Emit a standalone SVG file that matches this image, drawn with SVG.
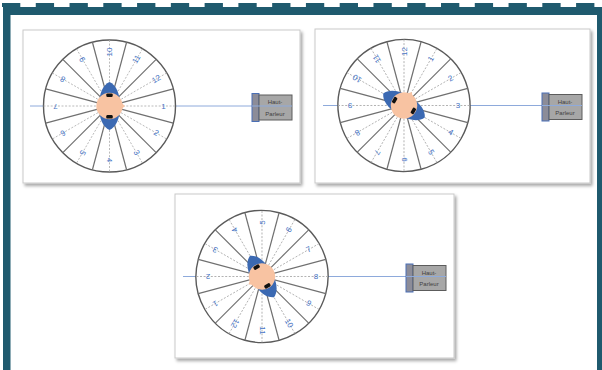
<svg xmlns="http://www.w3.org/2000/svg" xmlns:xlink="http://www.w3.org/1999/xlink" width="602" height="370" viewBox="0 0 602 370">
  <style>
    .frame { fill: #1F5A6E; }
    .panel { fill: #FFFFFF; stroke: #C9C9C9; stroke-width: 1; filter: url(#shadow); }
    .rim { fill: #FFFFFF; stroke: #5A5A5A; stroke-width: 1.4; }
    .divider { stroke: #707070; stroke-width: 1.2; }
    .guide { stroke: #A8A8A8; stroke-width: 0.8; stroke-dasharray: 2 1.6; }
    .axis { stroke: #8EAADB; stroke-width: 1; fill: none; }
    .num { font-family: "Liberation Sans", Arial, sans-serif; font-size: 8px; fill: #4472C4; text-anchor: middle; dominant-baseline: central; }
    .face { fill: #F8C3A2; }
    .hair { fill: #3B69B2; }
    .bud { fill: #111111; }
    .spk-front { fill: #8C8C98; stroke: #4A6FB5; stroke-width: 1; }
    .spk-box { fill: #A7A7A7; stroke: #5C5C5C; stroke-width: 1; }
    .spk-text { font-family: "Liberation Sans", Arial, sans-serif; font-size: 6px; fill: #3F3F3F; text-anchor: middle; }
  </style>
  <defs>
    <filter id="shadow" x="-5%" y="-5%" width="115%" height="120%">
      <feDropShadow dx="2" dy="2.5" stdDeviation="1.5" flood-color="#000000" flood-opacity="0.35"/>
    </filter>
    <!-- dial with 12 sectors, centred on the origin; label k sits at (k-1)*30 degrees -->
    <g id="dial">
      <circle class="rim" r="66"/>
      <g class="guide">
        <line x1="-66" y1="0" x2="66" y2="0"/>
        <line x1="-57.16" y1="-33" x2="57.16" y2="33"/>
        <line x1="-33" y1="-57.16" x2="33" y2="57.16"/>
        <line x1="0" y1="-66" x2="0" y2="66"/>
        <line x1="33" y1="-57.16" x2="-33" y2="57.16"/>
        <line x1="57.16" y1="-33" x2="-57.16" y2="33"/>
      </g>
      <g class="divider">
        <line x1="63.75" y1="17.08" x2="-63.75" y2="-17.08"/>
        <line x1="46.67" y1="46.67" x2="-46.67" y2="-46.67"/>
        <line x1="17.08" y1="63.75" x2="-17.08" y2="-63.75"/>
        <line x1="-17.08" y1="63.75" x2="17.08" y2="-63.75"/>
        <line x1="-46.67" y1="46.67" x2="46.67" y2="-46.67"/>
        <line x1="-63.75" y1="17.08" x2="63.75" y2="-17.08"/>
      </g>
      <g>
        <text class="num" transform="rotate(0) translate(54 0)">1</text>
        <text class="num" transform="rotate(30) translate(54 0)">2</text>
        <text class="num" transform="rotate(60) translate(54 0)">3</text>
        <text class="num" transform="rotate(90) translate(54 0)">4</text>
        <text class="num" transform="rotate(120) translate(54 0)">5</text>
        <text class="num" transform="rotate(150) translate(54 0)">6</text>
        <text class="num" transform="rotate(180) translate(54 0)">7</text>
        <text class="num" transform="rotate(210) translate(54 0)">8</text>
        <text class="num" transform="rotate(240) translate(54 0)">9</text>
        <text class="num" transform="rotate(270) translate(54 0)">10</text>
        <text class="num" transform="rotate(300) translate(54 0)">11</text>
        <text class="num" transform="rotate(330) translate(54 0)">12</text>
      </g>
      <!-- head seen from above: hair, face with nose, earphones -->
      <path class="hair" d="M0,-24 C6.5,-21 10.5,-13 10.5,0 C10.5,13 6.5,21 0,24 C-6.5,21 -10.5,13 -10.5,0 C-10.5,-13 -6.5,-21 0,-24 Z"/>
      <circle class="face" r="13.2"/>
      <path class="face" d="M12,-3 L15.5,0 L12,3 Z"/>
      <rect class="bud" x="-3.2" y="-12.6" width="6.4" height="3.6" rx="1.2"/>
      <rect class="bud" x="-3.2" y="9" width="6.4" height="3.6" rx="1.2"/>
    </g>
    <g id="speaker">
      <rect class="spk-front" x="0" y="0" width="7" height="28"/>
      <rect class="spk-box" x="7" y="1.5" width="33" height="25"/>
      <text class="spk-text" x="23" y="10.5">Haut-</text>
      <text class="spk-text" x="23" y="22">Parleur</text>
    </g>
  </defs>

  <rect x="0" y="0" width="602" height="370" fill="#FFFFFF"/>

  <!-- page frame -->
  <g id="frame">
    <line x1="2" y1="5" x2="602" y2="5" stroke="#1F5A6E" stroke-width="4" stroke-dasharray="18.3 15.47"/>
    <rect class="frame" x="3" y="7" width="599" height="8"/>
    <rect class="frame" x="3" y="7" width="7.5" height="363"/>
    <rect class="frame" x="597" y="7" width="5" height="363"/>
  </g>

  <!-- panel 1: label 1 faces the speaker -->
  <g id="panel1">
    <rect class="panel" x="23" y="30" width="277" height="153"/>
    <g id="connectors1">
      <line class="axis" x1="30" y1="106" x2="43.5" y2="106"/>
      <line class="axis" x1="175.5" y1="106" x2="292" y2="106"/>
    </g>
    <g id="dial1">
      <use xlink:href="#dial" transform="translate(109.5 106)"/>
    </g>
    <g id="speaker1">
      <use xlink:href="#speaker" transform="translate(252 93.5)"/>
      <line class="axis" x1="252" y1="106" x2="292" y2="106"/>
    </g>
  </g>

  <!-- panel 2: dial turned so label 3 faces the speaker -->
  <g id="panel2">
    <rect class="panel" x="315" y="29" width="275" height="154"/>
    <g id="connectors2">
      <line class="axis" x1="323" y1="105.5" x2="338" y2="105.5"/>
      <line class="axis" x1="470" y1="105.5" x2="580" y2="105.5"/>
    </g>
    <g id="dial2">
      <use xlink:href="#dial" transform="translate(404 105.5) rotate(-60)"/>
    </g>
    <g id="speaker2">
      <use xlink:href="#speaker" transform="translate(542 93)"/>
      <line class="axis" x1="542" y1="105.5" x2="582" y2="105.5"/>
    </g>
  </g>

  <!-- panel 3: dial turned so label 8 faces the speaker -->
  <g id="panel3">
    <rect class="panel" x="175" y="194" width="279" height="164"/>
    <g id="connectors3">
      <line class="axis" x1="183" y1="276.5" x2="196" y2="276.5"/>
      <line class="axis" x1="328" y1="276.5" x2="446" y2="276.5"/>
    </g>
    <g id="dial3">
      <use xlink:href="#dial" transform="translate(262 276.5) rotate(150)"/>
    </g>
    <g id="speaker3">
      <use xlink:href="#speaker" transform="translate(406 264)"/>
      <line class="axis" x1="406" y1="276.5" x2="446" y2="276.5"/>
    </g>
  </g>
</svg>
